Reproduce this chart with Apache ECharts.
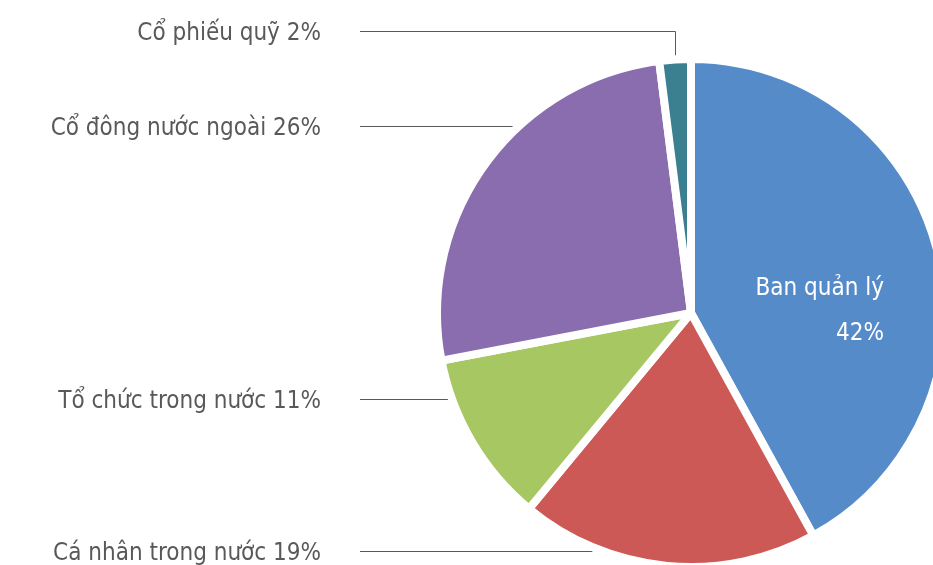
<!DOCTYPE html>
<html>
<head>
<meta charset="utf-8">
<script src="https://cdn.jsdelivr.net/npm/echarts@6/dist/echarts.min.js"></script>
<style>
  html, body { margin: 0; padding: 0; background: #ffffff; }
  #chart { width: 933px; height: 565px; }
</style>
</head>
<body>
<div id="chart"></div>
<script>
// ---- Data ----
const categories = ['Ban quản lý', 'Cá nhân trong nước', 'Tổ chức trong nước', 'Cổ đông nước ngoài', 'Cổ phiếu quỹ'];
const shares = [42, 19, 11, 26, 2];
const sliceColors = ['#568BC9', '#CD5957', '#A6C762', '#8A6DAE', '#3B8090'];

// ---- Layout ----
const CX = 691, CY = 313, R_VIS = 250, GAP = 8;
const FONT = "'Liberation Sans Narrow', 'DejaVu Sans Condensed', 'Roboto Condensed', 'Arial Narrow', sans-serif";
const labelRightX = 321, lineStartX = 360, lineGap = 8, textShift = 2;
const lineYs = [null, 551.5, 399.5, 126.5, 31.5];

const total = shares.reduce((a, b) => a + b, 0);
function midAngle(i) {
  let before = 0;
  for (let k = 0; k < i; k++) before += shares[k];
  return (before + shares[i] / 2) / total * 2 * Math.PI; // clockwise from top
}

const chart = echarts.init(document.getElementById('chart'), null, { renderer: 'canvas' });

const data = categories.map((name, i) => {
  const item = { name: name, value: shares[i], itemStyle: { color: sliceColors[i] } };
  if (i === 0) {
    item.label = { position: 'inside', color: '#ffffff', formatter: '{b}\n{c}%', align: 'right', lineHeight: 45 };
    item.labelLine = { show: false };
  }
  return item;
});

chart.setOption({
  animation: false,
  backgroundColor: '#ffffff',
  series: [{
    type: 'pie',
    center: [CX, CY],
    radius: R_VIS + GAP / 2,
    startAngle: 90,
    clockwise: true,
    avoidLabelOverlap: false,
    itemStyle: { borderColor: '#ffffff', borderWidth: GAP },
    label: {
      show: true,
      position: 'outside',
      formatter: '{b} {c}%',
      fontFamily: FONT,
      fontSize: 24,
      color: '#595959'
    },
    labelLine: { show: true, lineStyle: { color: '#595959', width: 1 } },
    emphasis: { disabled: true },
    data: data,
    labelLayout: function (p) {
      const i = p.dataIndex;
      if (i === 0) {
        return { x: 884, y: 311, align: 'right', verticalAlign: 'middle' };
      }
      const y = lineYs[i];
      const rr = R_VIS + lineGap;
      let pts;
      if (i === 4) {
        const bx = Math.round(CX + R_VIS * Math.sin(midAngle(i))) + 0.5;
        const endY = CY - Math.sqrt(rr * rr - (bx - CX) * (bx - CX));
        pts = [[lineStartX, y], [bx, y], [bx, endY]];
      } else {
        const dy = y - CY;
        const ex = CX - Math.sqrt(rr * rr - dy * dy);
        pts = [[lineStartX, y], [ex, y], [ex, y]];
      }
      return { x: labelRightX, y: y + textShift, align: 'right', verticalAlign: 'middle', labelLinePoints: pts };
    }
  }]
});
</script>
</body>
</html>
